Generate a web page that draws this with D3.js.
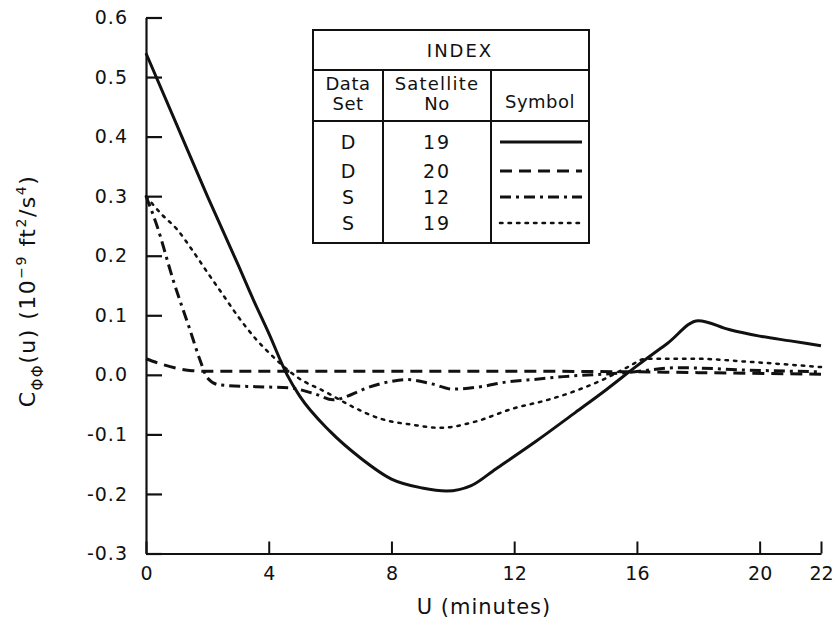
<!DOCTYPE html>
<html>
<head>
<meta charset="utf-8">
<script src="https://cdn.jsdelivr.net/npm/d3@7"></script>
<style>
  body { margin: 0; background: #fff; }
  svg text { font-family: "DejaVu Sans", sans-serif; fill: #111; }
</style>
</head>
<body>
<svg id="chart" width="838" height="630"></svg>
<script>
// ---- data ----
const xTicks = [0, 4, 8, 12, 16, 20, 22];
const yTicks = [-0.3, -0.2, -0.1, 0.0, 0.1, 0.2, 0.3, 0.4, 0.5, 0.6];
const yTickLabels = ["-0.3", "-0.2", "-0.1", "0.0", "0.1", "0.2", "0.3", "0.4", "0.5", "0.6"];

const uD19 = [0, 1, 2, 3, 3.5, 4, 4.6, 5, 6, 7, 8, 9, 9.8, 10.6, 11.4, 12.7, 14, 15, 16, 17, 18, 19, 20, 21, 22];
const vD19 = [0.54, 0.42, 0.30, 0.185, 0.126, 0.07, 0.0, -0.035, -0.095, -0.14, -0.175, -0.19, -0.195, -0.186, -0.158, -0.112, -0.063, -0.025, 0.015, 0.053, 0.091, 0.076, 0.065, 0.057, 0.049];

const uD20 = [0, 0.5, 1, 1.5, 2, 4, 8, 12, 16, 19, 22];
const vD20 = [0.027, 0.018, 0.011, 0.007, 0.006, 0.006, 0.006, 0.006, 0.005, 0.003, 0.001];

const uS12 = [0, 0.36, 0.88, 1.43, 1.76, 2.0, 2.4, 3.6, 4.7, 5.5, 6.1, 6.7, 7.2, 8.0, 8.5, 9.3, 10.0, 10.9, 11.75, 12.8, 13.6, 15.5, 17.4, 19.6, 22];
const vS12 = [0.30, 0.25, 0.16, 0.076, 0.025, -0.005, -0.017, -0.02, -0.022, -0.032, -0.042, -0.033, -0.022, -0.011, -0.008, -0.015, -0.024, -0.02, -0.012, -0.007, -0.003, 0.003, 0.012, 0.008, 0.005];

const uS19 = [0, 0.5, 1, 1.5, 2, 2.5, 3, 3.6, 4.15, 4.9, 5.9, 6.75, 7.6, 8.7, 9.6, 10.7, 12.0, 13.1, 14.1, 14.9, 15.7, 16.3, 17.9, 19.6, 22];
const vS19 = [0.30, 0.27, 0.245, 0.21, 0.172, 0.135, 0.098, 0.059, 0.03, -0.003, -0.03, -0.054, -0.073, -0.084, -0.089, -0.079, -0.056, -0.042, -0.025, -0.008, 0.013, 0.027, 0.027, 0.022, 0.013];

const dataSets = ["D", "D", "S", "S"];
const satellites = ["19", "20", "12", "19"];

// ---- layout ----
const svg = d3.select("#chart");
const x = d3.scaleLinear().domain([0, 22]).range([146, 821]);
const y = d3.scaleLinear().domain([-0.3, 0.6]).range([553.5, 17.5]);

const styles = [
  { dash: null, width: 3 },
  { dash: "12,7", width: 3 },
  { dash: "11,5,3,5", width: 3 },
  { dash: "2.5,6", width: 2.5 }
];
const series = [
  [uD19, vD19], [uD20, vD20], [uS12, vS12], [uS19, vS19]
];

// axes
const yAxis = d3.axisLeft(y).tickValues(yTicks)
  .tickFormat((d, i) => yTickLabels[i]).tickSizeInner(-16).tickSizeOuter(0).tickPadding(18);
const gy = svg.append("g").attr("transform", "translate(146,0)").call(yAxis);
gy.select(".domain").attr("stroke", "#111").attr("stroke-width", 2.2);
gy.selectAll(".tick line").attr("stroke", "#111").attr("stroke-width", 2.2);
gy.selectAll(".tick text").style("font-size", "19px").style("letter-spacing", "1px").attr("fill", "#111");

const xAxis = d3.axisBottom(x).tickValues(xTicks)
  .tickFormat(d => String(d)).tickSizeInner(-12).tickSizeOuter(0).tickPadding(13);
const gx = svg.append("g").attr("transform", "translate(0,553.5)").call(xAxis);
gx.select(".domain").attr("stroke", "#111").attr("stroke-width", 2.2);
gx.selectAll(".tick line").attr("stroke", "#111").attr("stroke-width", 2);
gx.selectAll(".tick text").style("font-size", "19px").attr("fill", "#111");

// x label
svg.append("text").attr("x", 484).attr("y", 614).attr("text-anchor", "middle")
  .style("font-size", "21px").style("letter-spacing", "1px").text("U (minutes)");

// y label
const yl = svg.append("text").attr("transform", "translate(35,291) rotate(-90)")
  .attr("text-anchor", "middle").style("font-size", "22px").style("letter-spacing", "1.5px");
yl.append("tspan").text("C");
yl.append("tspan").attr("dy", 8).style("font-size", "15px").text("ΦΦ");
yl.append("tspan").attr("dy", -8).text("(u) (10");
yl.append("tspan").attr("dy", -9).style("font-size", "14px").text("−9");
yl.append("tspan").attr("dy", 9).text(" ft");
yl.append("tspan").attr("dy", -9).style("font-size", "14px").text("2");
yl.append("tspan").attr("dy", 9).text("/s");
yl.append("tspan").attr("dy", -9).style("font-size", "14px").text("4");
yl.append("tspan").attr("dy", 9).text(")");

// curves
const line = d3.line().x(d => x(d[0])).y(d => y(d[1])).curve(d3.curveMonotoneX);
series.forEach((s, i) => {
  const pts = s[0].map((u, k) => [u, s[1][k]]);
  svg.append("path").datum(pts).attr("d", line)
    .attr("fill", "none").attr("stroke", "#111")
    .attr("stroke-width", styles[i].width)
    .attr("stroke-dasharray", styles[i].dash)
    .attr("stroke-linecap", i === 3 ? "round" : "butt");
});

// legend table
const T = { l: 313, r: 589, t: 30, r1: 70, r2: 121, b: 243, c1: 383, c2: 491 };
const tg = svg.append("g").attr("stroke", "#111").attr("stroke-width", 2).attr("fill", "none");
tg.append("rect").attr("x", T.l).attr("y", T.t).attr("width", T.r - T.l).attr("height", T.b - T.t).attr("fill", "#fff");
tg.append("line").attr("x1", T.l).attr("x2", T.r).attr("y1", T.r1).attr("y2", T.r1);
tg.append("line").attr("x1", T.l).attr("x2", T.r).attr("y1", T.r2).attr("y2", T.r2);
tg.append("line").attr("x1", T.c1).attr("x2", T.c1).attr("y1", T.r1).attr("y2", T.b);
tg.append("line").attr("x1", T.c2).attr("x2", T.c2).attr("y1", T.r1).attr("y2", T.b);

const txt = (tx, ty, s, fs, ls) => svg.append("text").attr("x", tx).attr("y", ty)
  .attr("text-anchor", "middle").style("font-size", fs + "px")
  .style("letter-spacing", (ls || 0) + "px").text(s);
txt(460, 57, "INDEX", 18, 2);
txt(348, 90, "Data", 18, 0.5); txt(348, 110, "Set", 18, 0.5);
txt(437, 90, "Satellite", 18, 1.2); txt(437, 110, "No", 18, 0.5);
txt(540, 108, "Symbol", 18, 0.5);
const rowY = [142, 171, 197, 223];
rowY.forEach((ry, i) => {
  txt(348, ry + 7, dataSets[i], 19, 0);
  txt(437, ry + 7, satellites[i], 19, 2);
  svg.append("line").attr("x1", 500).attr("x2", 582).attr("y1", ry).attr("y2", ry)
    .attr("stroke", "#111").attr("stroke-width", styles[i].width)
    .attr("stroke-dasharray", styles[i].dash)
    .attr("stroke-linecap", i === 3 ? "round" : "butt");
});
</script>
</body>
</html>
